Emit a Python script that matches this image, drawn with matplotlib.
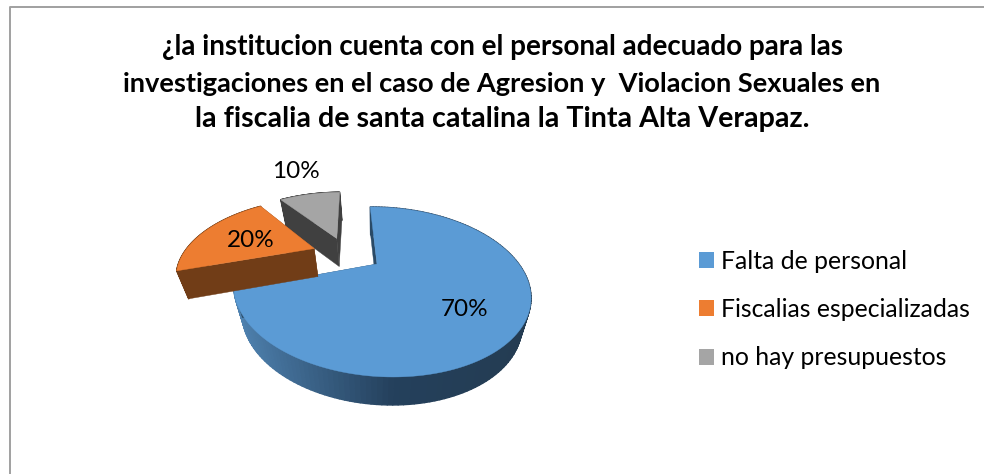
import numpy as np
import matplotlib
matplotlib.use("Agg")
import matplotlib.pyplot as plt
from matplotlib.patches import Patch
from matplotlib.collections import PolyCollection

# === data ===
categories = ["Falta de personal", "Fiscalias especializadas", "no hay presupuestos"]
values = [70, 20, 10]
title_lines = [
    "¿la institucion cuenta con el personal adecuado para las",
    "investigaciones en el caso de Agresion y  Violacion Sexuales en",
    "la fiscalia de santa catalina la Tinta Alta Verapaz.",
]

# === style ===
top_colors = ["#5b9bd5", "#ed7d31", "#a5a5a5"]
cut_colors = ["#2a4a66", "#713d17", "#404040"]
explode = [(0.0, 0.0), (-0.47, 0.22), (-0.30, 0.38)]
label_pos = [(465, 309), (251, 240), (296, 171)]

# projection of the pie disc onto the page (pixels)
CX, CY = 377, 264
A, B = 140, 75.8
KV, KU, SHEAR = 0.329, -0.013, -9
DEPTH, CONV = 28, 0.94


def project(u, v, bottom=False):
    w = 1 + KV * v + KU * u
    x = CX + (A * u + SHEAR * v) / w
    y = CY - B * v / w
    if bottom:
        x = CX + (x - CX) * CONV
        y = y + DEPTH
    return np.column_stack([x, y])


def wall_color(t):
    # left side of the blue wall is light, right side is dark
    r = np.interp(t, [0, 0.55, 1], [0x4f, 0x24, 0x24])
    g = np.interp(t, [0, 0.55, 1], [0x82, 0x40, 0x3c])
    b = np.interp(t, [0, 0.55, 1], [0xb0, 0x5c, 0x52])
    return np.column_stack([r, g, b]) / 255


fig = plt.figure(figsize=(9.84, 4.74), dpi=100)
ax = fig.add_axes([0, 0, 1, 1])
ax.set_xlim(0, 984)
ax.set_ylim(474, 0)
ax.axis("off")
plt.rcParams["font.family"] = "Lato"

# chart frame
ax.plot([9.5, 9.5, 984], [474, 6.5, 6.5], color="#a0a0a0", lw=1.4)

fracs = np.array(values) / sum(values)
edges = np.concatenate([[0], np.cumsum(fracs)]) * 2 * np.pi

# painter's order: blue, gray, orange
for i in [0, 2, 1]:
    th = np.linspace(edges[i], edges[i + 1], 160)
    du, dv = explode[i]
    u = np.sin(th) + du
    v = np.cos(th) + dv
    top = project(u, v)
    bot = project(u, v, True)
    ctop = project(np.array([du]), np.array([dv]))
    cbot = project(np.array([du]), np.array([dv]), True)

    # outer wall
    quads = [[top[j], top[j + 1], bot[j + 1], bot[j]] for j in range(len(th) - 1)]
    if i == 0:
        t = (top[:-1, 0] - 232) / (530 - 232)
        cols = wall_color(t)
    else:
        cols = [cut_colors[i]] * len(quads)
    ax.add_collection(PolyCollection(quads, facecolors=cols, edgecolors=cols, linewidths=1.0))

    # cut faces, far one first
    for k in (-1, 0):
        face = np.vstack([ctop, top[k], bot[k], cbot])
        ax.fill(face[:, 0], face[:, 1], color=cut_colors[i], lw=0.3)

    surface = np.vstack([ctop, top])
    ax.fill(surface[:, 0], surface[:, 1], color=top_colors[i], lw=0.3)

for val, (x, y) in zip(values, label_pos):
    ax.text(x, y, f"{val}%", fontsize=17.5, color="black", ha="center", va="center", family="Lato")

# the three title lines differ a little in width in the reference
for line, y, size in zip(title_lines, [47, 84, 119], [20.0, 19.6, 20.6]):
    ax.text(502, y, line, fontsize=size, fontweight="bold", color="black", ha="center", va="center", family="Lato")

handles = [Patch(facecolor=c, edgecolor="none") for c in top_colors]
ax.legend(handles, categories, loc="center left", bbox_to_anchor=(699, 309.5), bbox_transform=ax.transData,
          frameon=False, handlelength=0.6, handleheight=0.6, handletextpad=0.28,
          labelspacing=1.03, borderpad=0, borderaxespad=0, prop={"family": "Lato", "size": 17.8})

fig.savefig("out.png", dpi=100)
